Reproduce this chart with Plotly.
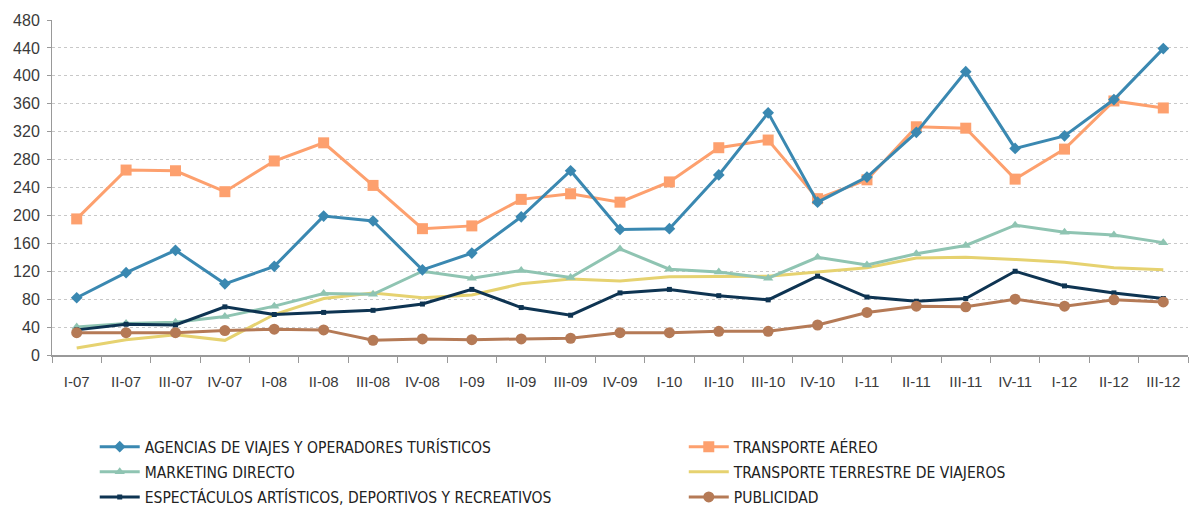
import plotly.graph_objects as go

periods = ["I-07", "II-07", "III-07", "IV-07", "I-08", "II-08", "III-08", "IV-08",
           "I-09", "II-09", "III-09", "IV-09", "I-10", "II-10", "III-10", "IV-10",
           "I-11", "II-11", "III-11", "IV-11", "I-12", "II-12", "III-12"]

agencias = [82, 118, 150, 102, 127, 199, 192, 122, 146, 198, 264, 180,
            181, 258, 347, 219, 255, 319, 406, 296, 314, 366, 439]
aereo = [195, 265, 264, 234, 278, 304, 243, 181, 185, 223, 231, 219,
         248, 297, 308, 224, 251, 327, 325, 252, 295, 364, 354]
marketing = [40, 45, 47, 55, 70, 88, 87, 120, 110, 121, 111, 152,
             123, 119, 110, 140, 129, 145, 157, 186, 176, 172, 161]
terrestre = [10, 22, 29, 21, 58, 81, 89, 82, 86, 102, 109, 106,
             112, 112, 113, 119, 125, 139, 140, 137, 133, 125, 122]
espectaculos = [36, 44, 43, 69, 58, 61, 64, 73, 94, 68, 57, 89,
                94, 85, 79, 113, 83, 77, 81, 120, 99, 89, 81]
publicidad = [32, 32, 32, 35, 37, 36, 21, 23, 22, 23, 24, 32,
              32, 34, 34, 43, 61, 70, 69, 80, 70, 79, 76]

# name, values, colour, marker symbol, marker size, legend column
series = [
    ("TRANSPORTE TERRESTRE DE VIAJEROS", terrestre, "#E6D270", "line-ew", 4, "legend2"),
    ("MARKETING DIRECTO", marketing, "#8FC4B2", "triangle-up", 9, "legend"),
    ("ESPECTÁCULOS ARTÍSTICOS, DEPORTIVOS Y RECREATIVOS", espectaculos, "#0E3452", "square", 5, "legend"),
    ("PUBLICIDAD", publicidad, "#B57A56", "circle", 11, "legend2"),
    ("TRANSPORTE AÉREO", aereo, "#FDA06E", "square", 11, "legend2"),
    ("AGENCIAS DE VIAJES Y OPERADORES TURÍSTICOS", agencias, "#3A88B1", "diamond", 9, "legend"),
]
legend_rank = {
    "AGENCIAS DE VIAJES Y OPERADORES TURÍSTICOS": 1,
    "MARKETING DIRECTO": 2,
    "ESPECTÁCULOS ARTÍSTICOS, DEPORTIVOS Y RECREATIVOS": 3,
    "TRANSPORTE AÉREO": 1,
    "TRANSPORTE TERRESTRE DE VIAJEROS": 2,
    "PUBLICIDAD": 3,
}

fig = go.Figure()
for name, vals, color, symbol, size, leg in series:
    fig.add_trace(go.Scatter(
        x=periods, y=vals, name=name, mode="lines+markers",
        line=dict(color=color, width=3),
        marker=dict(symbol=symbol, size=size, color=color),
        legend=leg, legendrank=legend_rank[name], legendgroup=name,
    ))

legend_style = dict(
    orientation="v", xref="container", yref="container",
    xanchor="left", yanchor="top", y=0.15,
    font=dict(family="DejaVu Sans Condensed, DejaVu Sans", size=15.5, color="#222222"),
    itemwidth=40, tracegroupgap=2, bgcolor="rgba(0,0,0,0)",
)

fig.update_layout(
    width=1190, height=506,
    margin=dict(l=52, r=2, t=20, b=151, autoexpand=False),
    plot_bgcolor="white", paper_bgcolor="white",
    font=dict(family="Liberation Sans, Arial", size=14, color="#333333"),
    legend=dict(x=0.0796, **legend_style),
    legend2=dict(x=0.5746, **legend_style),
    showlegend=True,
)
fig.update_xaxes(
    type="category", range=[-0.5, len(periods) - 0.5],
    tickson="boundaries", ticks="outside", ticklen=6,
    tickcolor="#999999", showline=True, linecolor="#999999", linewidth=2,
    showgrid=False, ticklabelstandoff=12,
    tickfont=dict(family="Liberation Sans, Arial", size=15, color="#3a3a3a"),
)
fig.update_yaxes(
    range=[0, 480], dtick=40, ticks="outside", ticklen=4, tickcolor="#999999",
    showline=True, linecolor="#999999", linewidth=1,
    showgrid=True, gridcolor="#C8C8C8", griddash="dot", gridwidth=1,
    zeroline=False, ticklabelstandoff=4,
    tickfont=dict(family="Liberation Sans, Arial", size=16, color="#3a3a3a"),
)

fig.write_html("out.html", config={"displayModeBar": False},
               post_script="document.body.style.margin='0';")
